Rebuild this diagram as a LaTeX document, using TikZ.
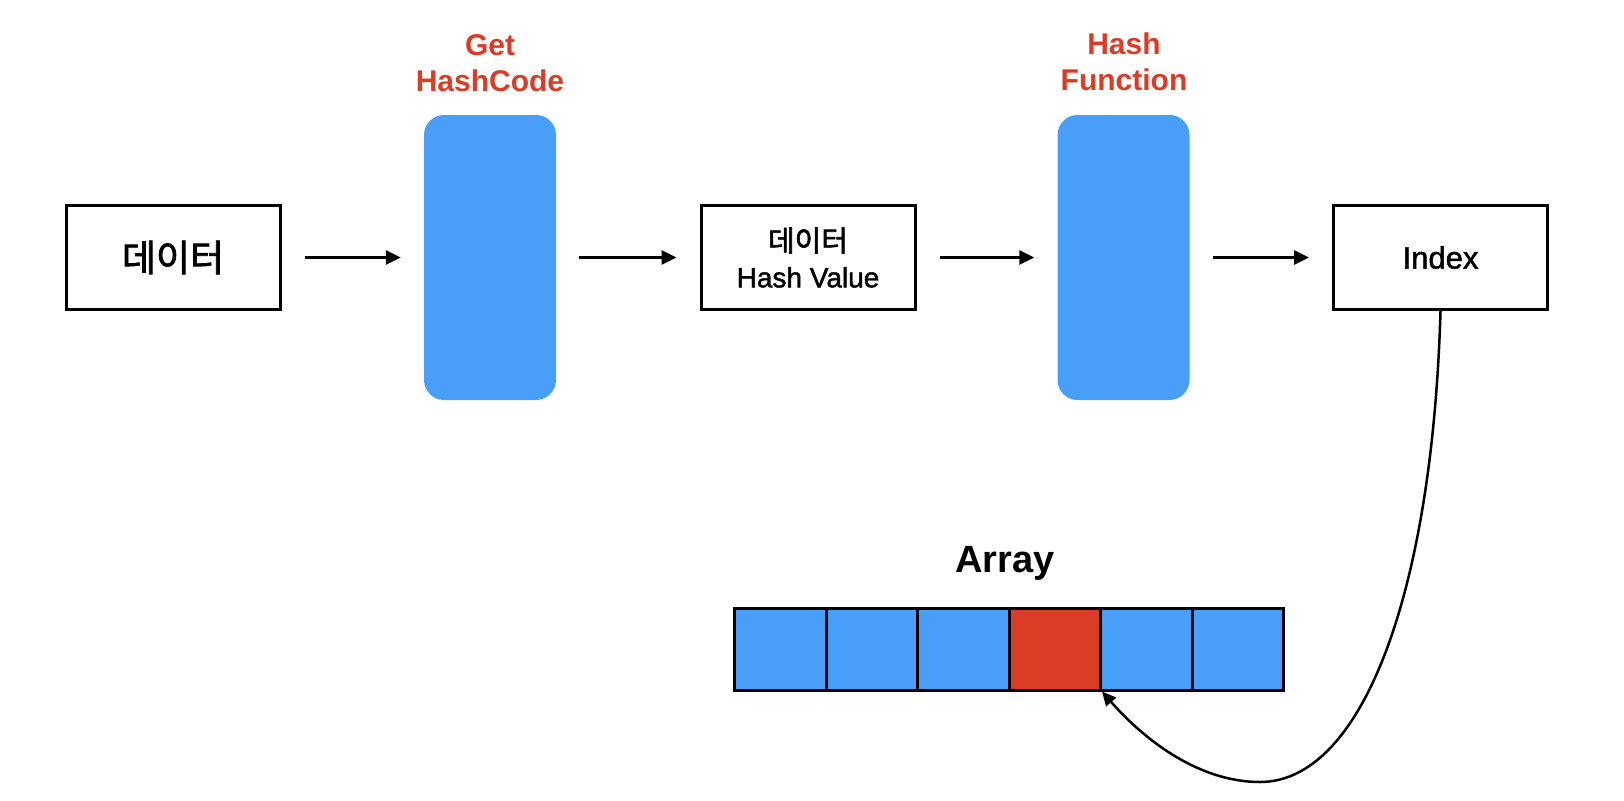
\documentclass[tikz,border=0pt]{standalone}
\usepackage{fontspec}
\setmainfont{Liberation Sans}
\newfontfamily\kr[FakeBold=2]{Noto Sans CJK KR}
\newfontfamily\med[FakeBold=1.5]{Liberation Sans}
\usetikzlibrary{arrows.meta}
\definecolor{hblue}{RGB}{73,159,248}
\definecolor{hred}{RGB}{218,60,38}
\begin{document}
\begin{tikzpicture}[x=1pt,y=-1pt,
  box/.style={draw=black,line width=3pt,minimum width=214pt,minimum height=104pt,inner sep=0pt,align=center},
  proc/.style={fill=hblue,rounded corners=20pt,minimum width=132pt,minimum height=285pt,inner sep=0pt},
  lbl/.style={text=hred,font=\bfseries\fontsize{30}{36}\selectfont,align=center},
  flow/.style={line width=3pt,-{Triangle[length=15pt,width=14pt]},shorten <=23pt,shorten >=23pt},
  cell/.style={draw=black,line width=3pt,fill=hblue,minimum width=91.5pt,minimum height=81.5pt,inner sep=0pt},
  redcell/.style={cell,fill=hred},
  link/.style={line width=2.5pt,-{Triangle[length=14pt,width=13pt]}}
]
\useasboundingbox (0,0) rectangle (1624,800);
% boxes
\node[box] (data) at (173,257.5) {\kr\fontsize{37}{42}\selectfont 데이터};
\node[proc] (gh) at (490,257.5) {};
\node[lbl] (ghl) at (490,63) {Get\\HashCode};
\node[box,font=\med\fontsize{28}{36}\selectfont] (hv) at (808,257.5) {{\kr\fontsize{29}{36}\selectfont 데이터}\\Hash Value};
\node[proc] (hf) at (1123.5,257.5) {};
\node[lbl] (hfl) at (1124,62) {Hash\\Function};
\node[box,font=\med\fontsize{31}{36}\selectfont] (idx) at (1440.5,257.5) {Index};
% flow arrows
\draw[flow] (data.east) -- (gh.west);
\draw[flow] (gh.east) -- (hv.west);
\draw[flow] (hv.east) -- (hf.west);
\draw[flow] (hf.east) -- (idx.west);
% array
\node[font=\bfseries\fontsize{38}{42}\selectfont] (arr) at (1005,563) {Array};
\node[cell] (c1) at (780.25,649.25) {};
\node[cell] (c2) at (871.75,649.25) {};
\node[cell] (c3) at (963.25,649.25) {};
\node[redcell] (c4) at (1054.75,649.25) {};
\node[cell] (c5) at (1146.25,649.25) {};
\node[cell] (c6) at (1237.75,649.25) {};
% curved link
\coordinate (low) at (1260,782);
\draw[link] (idx.south) .. controls (1432,600) and (1360,782) .. (low)
  .. controls (1195,782) and (1140,735) .. (c4.south east);
\end{tikzpicture}
\end{document}
